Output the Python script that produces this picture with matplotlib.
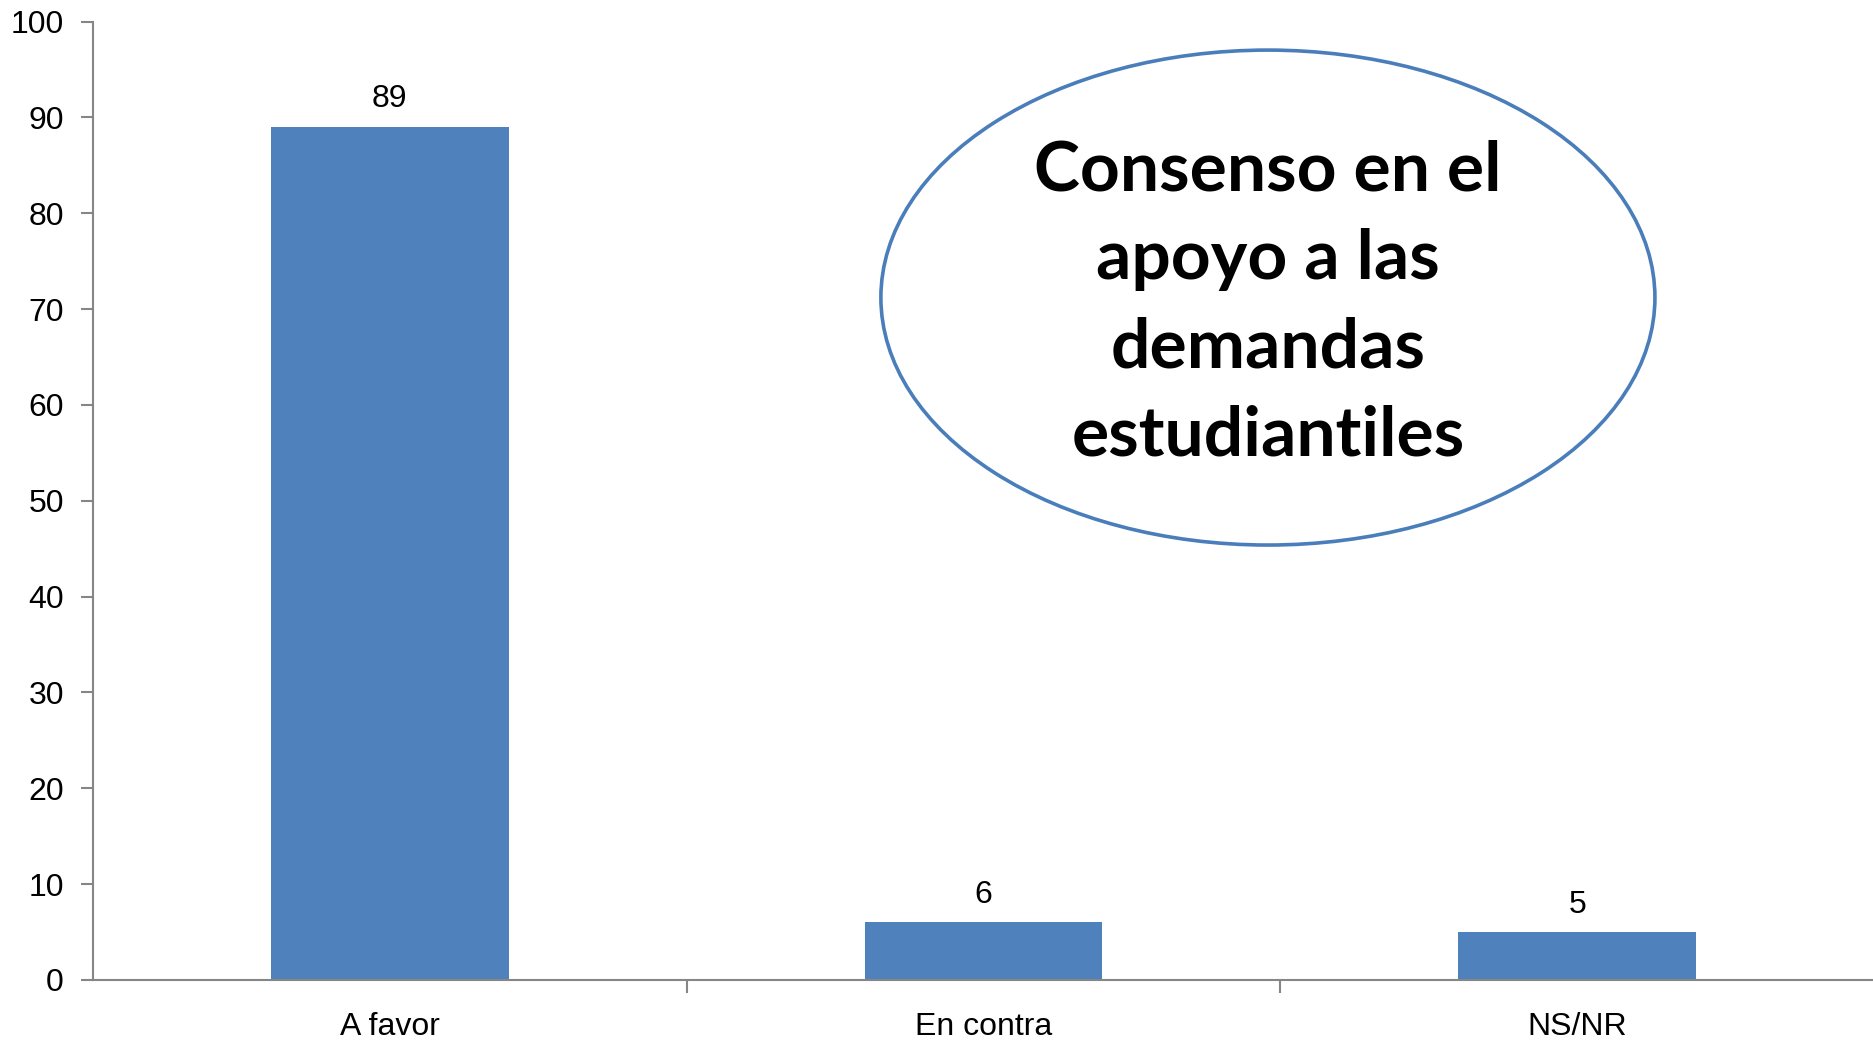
import numpy as np
import matplotlib.pyplot as plt
from matplotlib.patches import Ellipse

plt.rcParams['font.family'] = ['Liberation Sans', 'DejaVu Sans']

categories = ['A favor', 'En contra', 'NS/NR']
values = [89, 6, 5]
yticks = [0, 10, 20, 30, 40, 50, 60, 70, 80, 90, 100]
note = 'Consenso en el\napoyo a las\ndemandas\nestudiantiles'

bar_color = '#4F81BD'
axis_color = '#868686'

fig = plt.figure(figsize=(18.74, 10.4), dpi=100)
ax = fig.add_axes([0.0496, 0.0577, 0.9504, 0.9216])

x = np.arange(len(categories))
bars = ax.bar(x, values, width=0.4, color=bar_color)
ax.bar_label(bars, labels=[str(v) for v in values], padding=9, fontsize=23)

ax.set_xlim(-0.5, len(categories) - 0.5)
ax.set_ylim(0, 100)
ax.set_yticks(yticks)
ax.set_xticks([0.5, 1.5], minor=False)
ax.set_xticklabels([])
ax.set_xticks(x, minor=True)
ax.set_xticklabels(categories, minor=True, fontsize=23)
ax.tick_params(axis='x', which='minor', length=0, pad=23)
ax.tick_params(axis='x', which='major', length=9, width=1.5, color=axis_color, direction='out')
ax.tick_params(axis='y', length=9, width=1.5, color=axis_color, labelsize=23, pad=12)

for s in ['top', 'right']:
    ax.spines[s].set_visible(False)
for s in ['left', 'bottom']:
    ax.spines[s].set_color(axis_color)
    ax.spines[s].set_linewidth(1.5)

ell = Ellipse((0.6597, 0.712), 0.4346, 0.5164, transform=ax.transAxes,
              facecolor='white', edgecolor='#4A7EBB', linewidth=2.6, zorder=5)
ax.add_patch(ell)
ax.text(0.6597, 0.706, note, transform=ax.transAxes, ha='center', va='center',
        fontsize=50, fontweight='bold', family=['Lato', 'DejaVu Sans'],
        linespacing=1.5, zorder=6)

fig.savefig('out.png', dpi=100)
